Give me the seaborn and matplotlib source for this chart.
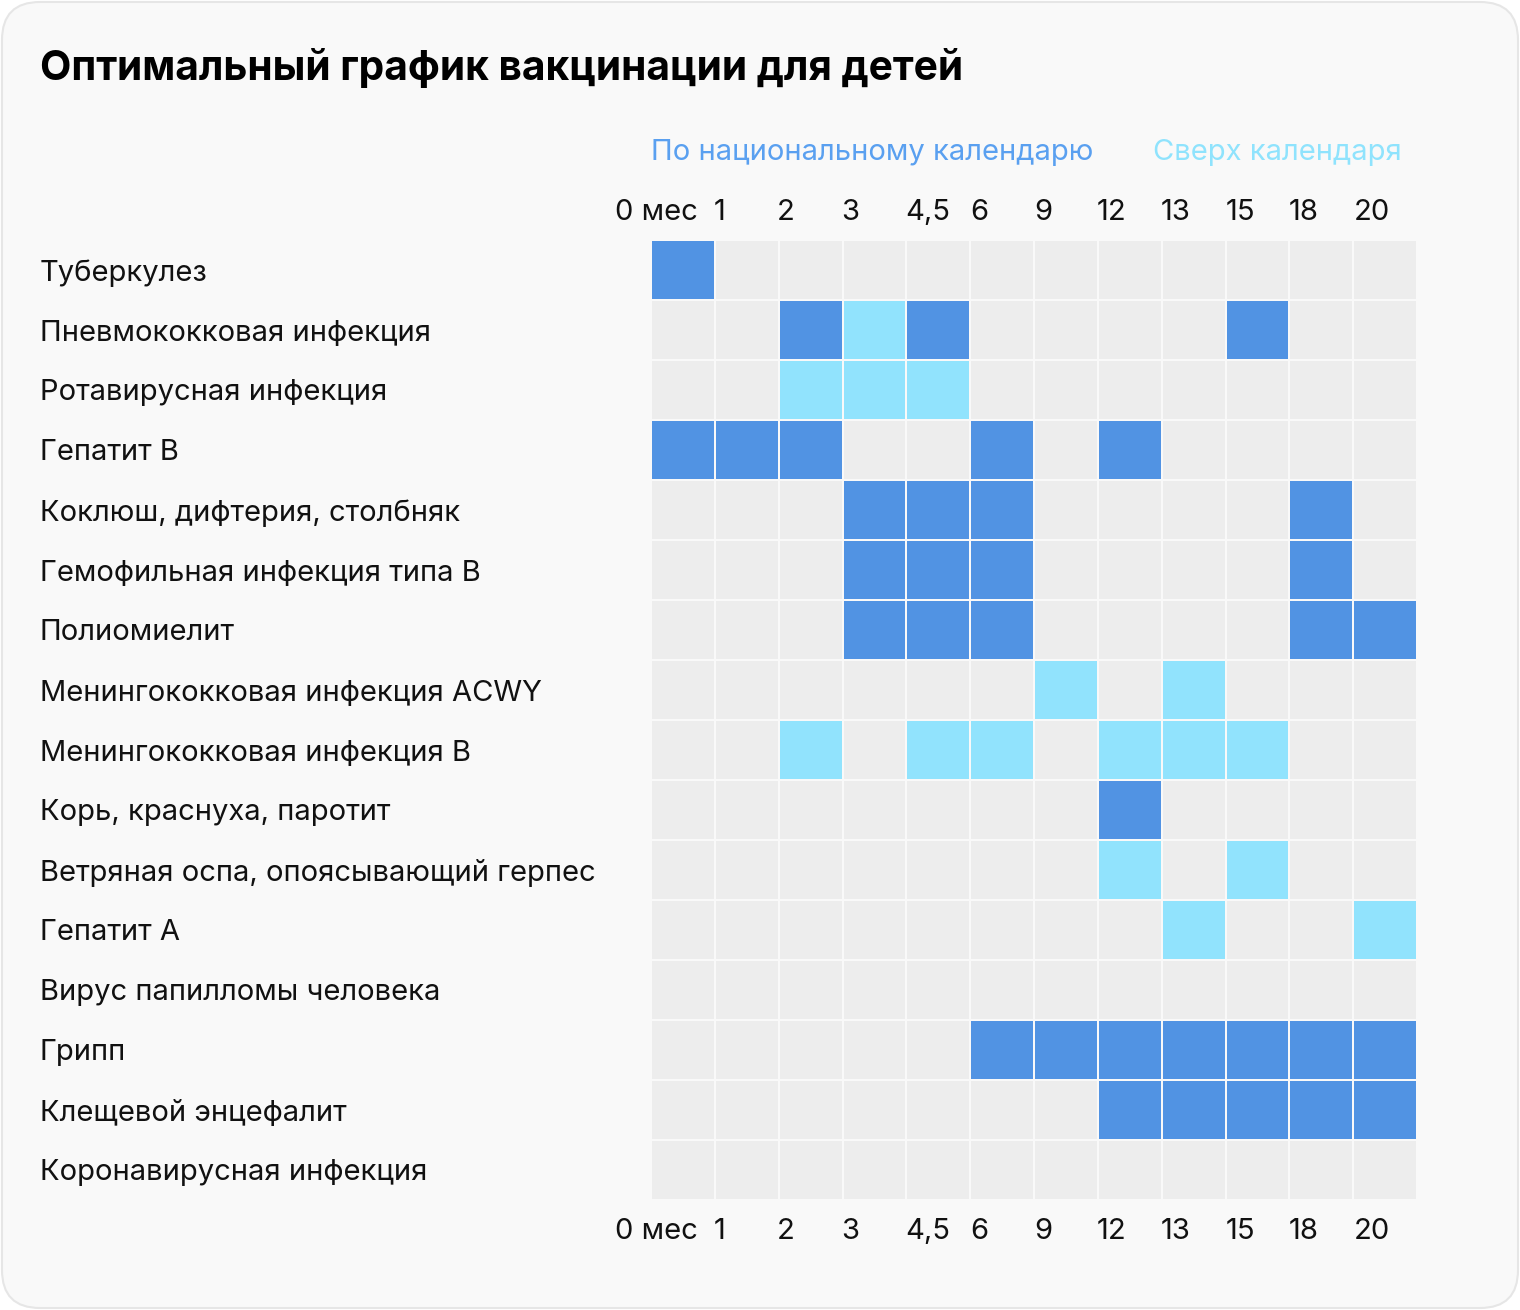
import numpy as np
import pandas as pd
import matplotlib
matplotlib.use("Agg")
import matplotlib.pyplot as plt
from matplotlib.colors import ListedColormap
from matplotlib.patches import FancyBboxPatch
import seaborn as sns

sns.set_theme(style="white")
plt.rcParams['font.family'] = ['Inter', 'DejaVu Sans']

title = "Оптимальный график вакцинации для детей"
legend_national = "По национальному календарю"
legend_extra = "Сверх календаря"

ages = ["0 мес", "1", "2", "3", "4,5", "6", "9", "12", "13", "15", "18", "20"]
diseases = [
    "Туберкулез",
    "Пневмококковая инфекция",
    "Ротавирусная инфекция",
    "Гепатит В",
    "Коклюш, дифтерия, столбняк",
    "Гемофильная инфекция типа В",
    "Полиомиелит",
    "Менингококковая инфекция ACWY",
    "Менингококковая инфекция В",
    "Корь, краснуха, паротит",
    "Ветряная оспа, опоясывающий герпес",
    "Гепатит А",
    "Вирус папилломы человека",
    "Грипп",
    "Клещевой энцефалит",
    "Коронавирусная инфекция",
]
# 0 = none, 1 = national calendar, 2 = beyond calendar
schedule = [
    [1, 0, 0, 0, 0, 0, 0, 0, 0, 0, 0, 0],
    [0, 0, 1, 2, 1, 0, 0, 0, 0, 1, 0, 0],
    [0, 0, 2, 2, 2, 0, 0, 0, 0, 0, 0, 0],
    [1, 1, 1, 0, 0, 1, 0, 1, 0, 0, 0, 0],
    [0, 0, 0, 1, 1, 1, 0, 0, 0, 0, 1, 0],
    [0, 0, 0, 1, 1, 1, 0, 0, 0, 0, 1, 0],
    [0, 0, 0, 1, 1, 1, 0, 0, 0, 0, 1, 1],
    [0, 0, 0, 0, 0, 0, 2, 0, 2, 0, 0, 0],
    [0, 0, 2, 0, 2, 2, 0, 2, 2, 2, 0, 0],
    [0, 0, 0, 0, 0, 0, 0, 1, 0, 0, 0, 0],
    [0, 0, 0, 0, 0, 0, 0, 2, 0, 2, 0, 0],
    [0, 0, 0, 0, 0, 0, 0, 0, 2, 0, 0, 2],
    [0, 0, 0, 0, 0, 0, 0, 0, 0, 0, 0, 0],
    [0, 0, 0, 0, 0, 1, 1, 1, 1, 1, 1, 1],
    [0, 0, 0, 0, 0, 0, 0, 1, 1, 1, 1, 1],
    [0, 0, 0, 0, 0, 0, 0, 0, 0, 0, 0, 0],
]

# tick label centres (data units) as placed in the design
tick_pos = [0.08, 1.07, 2.11, 3.12, 4.34, 5.14, 6.14, 7.21, 8.22, 9.23, 10.23, 11.30]

c_empty = "#ededed"
c_nat = "#5193e3"
c_extra = "#91e3fd"

df = pd.DataFrame(schedule, index=diseases, columns=ages)

fig = plt.figure(figsize=(15.2, 13.1), dpi=100)
fig.patch.set_facecolor("white")
bg = FancyBboxPatch((2 / 1520, 2 / 1310), 1 - 4 / 1520, 1 - 4 / 1310,
                    boxstyle="round,pad=0,rounding_size=0.025",
                    transform=fig.transFigure, facecolor="#f9f9f9",
                    edgecolor="#e6e6e6", linewidth=1.5, zorder=-10,
                    mutation_aspect=1520 / 1310)
fig.patches.append(bg)

ax = fig.add_axes([651 / 1520, 1 - 1200 / 1310, (1417 - 651) / 1520, (1200 - 240) / 1310])
sns.heatmap(df, ax=ax, cmap=ListedColormap([c_empty, c_nat, c_extra]),
            vmin=-0.5, vmax=2.5, cbar=False, linewidths=1.1, linecolor="#f9f9f9",
            square=False)

fs = 21
ax.set_xticks(tick_pos)
ax.set_xticklabels(ages, fontsize=fs, color="#111111")
ax.tick_params(axis="x", top=True, bottom=True, labeltop=False, labelbottom=True,
               length=0, pad=13)
ax.set_yticks(np.arange(len(diseases)) + 0.5)
ax.set_yticklabels(diseases, fontsize=fs, color="#111111", ha="left",
                   va="center_baseline")
ax.tick_params(axis="y", length=0, pad=(651 - 40) * 0.72)
ax.set_xlabel("")
ax.set_ylabel("")
for s in ax.spines.values():
    s.set_visible(False)

top = ax.secondary_xaxis("top")
top.set_xticks(tick_pos)
top.set_xticklabels(ages, fontsize=fs, color="#111111")
top.tick_params(length=0, pad=10)
for s in top.spines.values():
    s.set_visible(False)

fig.text(40 / 1520, 1 - 64 / 1310, title, fontsize=29.3, fontweight="bold",
         color="#000000", ha="left", va="center_baseline")
fig.text(651 / 1520, 1 - 149 / 1310, legend_national, fontsize=fs,
         color="#5aa0f0", ha="left", va="center_baseline")
fig.text(1153 / 1520, 1 - 149 / 1310, legend_extra, fontsize=fs,
         color="#8fe3fd", ha="left", va="center_baseline")

fig.savefig("out.png", dpi=100, facecolor="white")
